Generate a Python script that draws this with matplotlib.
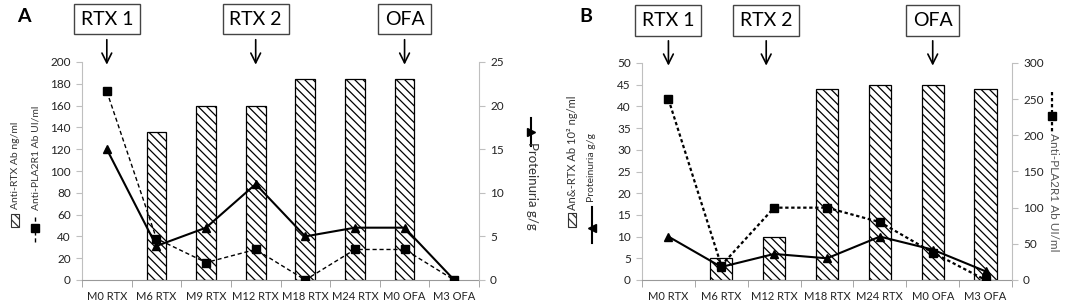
import numpy as np
import matplotlib
matplotlib.use('Agg')
import matplotlib.pyplot as plt
from matplotlib.patches import Rectangle
from matplotlib.lines import Line2D

plt.rcParams['font.family'] = ['Lato', 'DejaVu Sans']
plt.rcParams['hatch.linewidth'] = 0.9

# Panel A data
cats_a = ['M0 RTX', 'M6 RTX', 'M9 RTX', 'M12 RTX', 'M18 RTX', 'M24 RTX', 'M0 OFA', 'M3 OFA']
rtx_a = [np.nan, 136, 160, 160, 184, 184, 184, np.nan]
pla2r1_a = [173, 38, 16, 28, 0, 28, 28, 0]
prot_a = [15, 3.9, 6, 11, 5, 6, 6, 0]

# Panel B data
cats_b = ['M0 RTX', 'M6 RTX', 'M12 RTX', 'M18 RTX', 'M24 RTX', 'M0 OFA', 'M3 OFA']
rtx_b = [np.nan, 5, 10, 44, 45, 45, 44]
pla2r1_b = [250, 20, 100, 100, 80, 38, 0]
prot_b = [10, 3, 6, 5, 10, 7, 2]

# treatment events (x position in category units)
events = ['RTX 1', 'RTX 2', 'OFA']
events_a = [0, 3, 6]
events_b = [0, 1.85, 5]

W, H = 1091, 308
fig = plt.figure(figsize=(W / 100, H / 100), dpi=100)

HATCH = '\\\\\\\\'
GRID = '#bfbfbf'


def px(x, y):
    return x / W, 1 - y / H


def style(ax, n, ymax, ystep):
    ax.set_xlim(-0.5, n - 0.5)
    ax.set_ylim(0, ymax)
    ax.set_yticks(np.arange(0, ymax + 0.1, ystep))
    ax.set_xticks(range(n))
    ax.set_xticks([i - 0.5 for i in range(n + 1)], minor=True)
    ax.tick_params(axis='x', which='major', length=0, pad=8, labelsize=8, colors='#222')
    ax.tick_params(axis='x', which='minor', length=5, color='#999')
    ax.tick_params(axis='y', length=4, color=GRID, labelsize=8.5, labelcolor='#222', pad=4)
    for s in ['top', 'right']:
        ax.spines[s].set_visible(False)
    ax.spines['left'].set_color(GRID)
    ax.spines['bottom'].set_color('#999')


def style_right(ax2, ymax, ystep):
    ax2.set_ylim(0, ymax)
    ax2.set_yticks(np.arange(0, ymax + 0.1, ystep))
    ax2.tick_params(axis='y', length=4, color=GRID, labelsize=8.5, labelcolor='#222', pad=4)
    for s in ['top', 'left', 'bottom']:
        ax2.spines[s].set_visible(False)
    ax2.spines['right'].set_color(GRID)


def draw_events(ax, xs):
    tr = ax.get_xaxis_transform()
    for name, x in zip(events, xs):
        ax.text(x, 1.197, name, transform=tr, ha='center', va='center', fontsize=14,
                bbox=dict(boxstyle='square,pad=0.35', fc='white', ec='#444', lw=1))
        ax.annotate('', xy=(x, 0.975), xycoords=tr, xytext=(x, 1.115), textcoords=tr,
                    arrowprops=dict(arrowstyle='->,head_length=0.7,head_width=0.35',
                                    lw=1.2, color='black'))


def leg_hatch(x, y0, y1):
    (fx, fy0), (_, fy1) = px(x - 4, y1), px(x, y0)
    fig.patches.append(Rectangle((fx, fy0), 8 / W, fy1 - fy0, transform=fig.transFigure,
                                 fc='white', ec='#333', lw=0.8, hatch=HATCH))


def leg_line(x, y0, y1, ym, ls, marker, lw=1.2):
    a, b = px(x, y0), px(x, y1)
    fig.lines.append(Line2D([a[0], b[0]], [a[1], b[1]], transform=fig.transFigure,
                            color='black', ls=ls, lw=lw))
    m = px(x, ym)
    fig.lines.append(Line2D([m[0]], [m[1]], transform=fig.transFigure, color='black',
                            marker=marker, ms=6, ls='none'))


def leg_text(x, y, s, rot, size=7.5, color='#333'):
    fx, fy = px(x, y)
    fig.text(fx, fy, s, rotation=rot, ha='center', va='center', fontsize=size, color=color)


# ---- Panel A ----
axA = fig.add_axes([82 / W, 28 / H, 397 / W, 218 / H])
xa = np.arange(len(cats_a))
axA.bar(xa, rtx_a, width=0.4, color='white', edgecolor='black', lw=0.9, hatch=HATCH, zorder=2)
axA.plot(xa, pla2r1_a, color='black', ls=(0, (3, 2)), lw=1, marker='s', ms=6, zorder=3)
style(axA, len(cats_a), 200, 20)
axA.set_xticklabels(cats_a)
axA2 = axA.twinx()
axA2.plot(xa, prot_a, color='black', lw=1.5, marker='^', ms=6)
style_right(axA2, 25, 5)
draw_events(axA, events_a)

leg_hatch(15, 214, 227)
leg_text(16, 165, 'Anti-RTX Ab ng/ml', 90)
leg_line(35, 217, 242, 228, (0, (3, 2)), 's', lw=1)
leg_text(36, 158, 'Anti-PLA2R1 Ab UI/ml', 90)
leg_line(531, 118, 146, 132, '-', '>', lw=1.5)
leg_text(532, 186, 'Proteinuria g/g', 270, size=9.5)

# ---- Panel B ----
axB = fig.add_axes([642 / W, 28 / H, 370 / W, 217 / H])
xb = np.arange(len(cats_b))
axB.bar(xb, rtx_b, width=0.42, color='white', edgecolor='black', lw=0.9, hatch=HATCH, zorder=2)
axB.plot(xb, prot_b, color='black', lw=1.5, marker='^', ms=6, zorder=3)
style(axB, len(cats_b), 50, 5)
axB.set_xticklabels(cats_b)
axB2 = axB.twinx()
axB2.plot(xb, pla2r1_b, color='black', ls=(0, (1.5, 1.2)), lw=1.6, marker='s', ms=6)
style_right(axB2, 300, 50)
draw_events(axB, events_b)

leg_hatch(572, 213, 227)
leg_text(572, 153, 'An&-RTX Ab 10² ng/ml', 90, size=8)
leg_line(592, 207, 243, 228, '-', '<', lw=1.5)
leg_text(592, 168, 'Proteinuria g/g', 90)
leg_line(1052, 92, 132, 116, (0, (1.5, 1.2)), 's', lw=1.6)
leg_text(1053, 192, 'Anti-PLA2R1 Ab UI/ml', 270, size=8.5, color='#555')

fig.text(*px(24, 16), 'A', fontsize=14, fontweight='bold', ha='center', va='center')
fig.text(*px(586, 16), 'B', fontsize=14, fontweight='bold', ha='center', va='center')

fig.savefig('out.png', dpi=100)
